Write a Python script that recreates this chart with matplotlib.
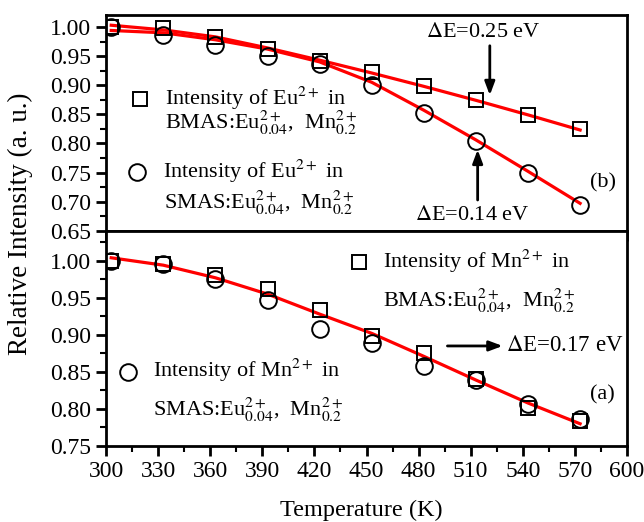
import numpy as np
import matplotlib.pyplot as plt
from matplotlib.ticker import MultipleLocator

plt.rcParams['font.family'] = ['Liberation Serif', 'DejaVu Serif']
plt.rcParams['mathtext.fontset'] = 'stix'

temps = [303, 333, 363, 393, 423, 453, 483, 513, 543, 573]

# (b) Eu2+ emission
eu_bmas = [1.000, 0.998, 0.982, 0.962, 0.941, 0.923, 0.898, 0.874, 0.848, 0.824]
eu_smas = [1.000, 0.987, 0.969, 0.950, 0.936, 0.900, 0.852, 0.804, 0.749, 0.695]
eu_bmas_fit = [1.003, 0.995, 0.983, 0.964, 0.943, 0.921, 0.898, 0.874, 0.849, 0.823]
eu_smas_fit = [0.994, 0.990, 0.978, 0.962, 0.940, 0.905, 0.857, 0.806, 0.752, 0.697]

# (a) Mn2+ emission
mn_bmas = [1.000, 0.995, 0.981, 0.962, 0.933, 0.899, 0.875, 0.840, 0.801, 0.784]
mn_smas = [1.000, 0.996, 0.976, 0.947, 0.908, 0.889, 0.858, 0.839, 0.807, 0.787]
mn_fit = [1.004, 0.994, 0.977, 0.955, 0.928, 0.902, 0.871, 0.839, 0.808, 0.780]

fig = plt.figure(figsize=(6.44, 5.22), dpi=100)
ax_b = fig.add_axes([0.1646, 0.558, 0.809, 0.4133])
ax_a = fig.add_axes([0.1646, 0.1456, 0.809, 0.4124], sharex=ax_b)

sq = dict(marker='s', ms=10, mfc='none', mec='black', mew=1.4, ls='none')
ci = dict(marker='o', ms=12, mfc='none', mec='black', mew=1.4, ls='none')
red = dict(color='#ff0000', lw=2.3)

# top panel
ax_b.plot(temps, eu_bmas_fit, **red)
ax_b.plot(temps, eu_smas_fit, **red)
ax_b.plot(temps, eu_bmas, **sq)
ax_b.plot(temps, eu_smas, **ci)
ax_b.set_ylim(0.65, 1.0206)
ax_b.set_yticks(np.arange(0.65, 1.001, 0.05))
ax_b.yaxis.set_minor_locator(MultipleLocator(0.025))

fs = 16
ax_b.plot([0.065], [0.611], transform=ax_b.transAxes, **sq)
ax_b.text(0.113, 0.615, 'Intensity of Eu$^{2+}$ in', transform=ax_b.transAxes,
          va='center', fontsize=fs)
ax_b.text(0.113, 0.500, 'BMAS:Eu$^{2+}_{0.04}$,  Mn$^{2+}_{0.2}$', transform=ax_b.transAxes,
          va='center', fontsize=fs)
ax_b.plot([0.0595], [0.272], transform=ax_b.transAxes, **ci)
ax_b.text(0.109, 0.276, 'Intensity of Eu$^{2+}$ in', transform=ax_b.transAxes,
          va='center', fontsize=fs)
ax_b.text(0.112, 0.130, 'SMAS:Eu$^{2+}_{0.04}$,  Mn$^{2+}_{0.2}$', transform=ax_b.transAxes,
          va='center', fontsize=fs)

arrow = dict(arrowstyle='-|>,head_length=0.8,head_width=0.3', color='black', lw=2)
ax_b.annotate('', xy=(521, 0.878), xytext=(521, 0.9725), arrowprops=arrow)
ax_b.text(517, 0.99, r'$\Delta$E=0.25 eV', ha='center', va='center', fontsize=fs)
ax_b.annotate('', xy=(514, 0.794), xytext=(514, 0.698), arrowprops=arrow)
ax_b.text(511, 0.677, r'$\Delta$E=0.14 eV', ha='center', va='center', fontsize=fs)
ax_b.text(586, 0.733, '(b)', ha='center', va='center', fontsize=fs)

# bottom panel
ax_a.plot(temps, mn_fit, **red)
ax_a.plot(temps, mn_bmas, **sq)
ax_a.plot(temps, mn_smas, **ci)
ax_a.set_ylim(0.75, 1.0405)
ax_a.set_yticks(np.arange(0.75, 1.001, 0.05))
ax_a.yaxis.set_minor_locator(MultipleLocator(0.025))

ax_a.plot([0.486], [0.855], transform=ax_a.transAxes, **sq)
ax_a.text(0.532, 0.859, 'Intensity of Mn$^{2+}$ in', transform=ax_a.transAxes,
          va='center', fontsize=fs)
ax_a.text(0.532, 0.675, 'BMAS:Eu$^{2+}_{0.04}$,  Mn$^{2+}_{0.2}$', transform=ax_a.transAxes,
          va='center', fontsize=fs)
ax_a.plot([0.042], [0.345], transform=ax_a.transAxes, **ci)
ax_a.text(0.090, 0.349, 'Intensity of Mn$^{2+}$ in', transform=ax_a.transAxes,
          va='center', fontsize=fs)
ax_a.text(0.090, 0.169, 'SMAS:Eu$^{2+}_{0.04}$,  Mn$^{2+}_{0.2}$', transform=ax_a.transAxes,
          va='center', fontsize=fs)

ax_a.annotate('', xy=(530, 0.885), xytext=(495, 0.885), arrowprops=arrow)
ax_a.text(530.5, 0.885, r'$\Delta$E=0.17 eV', ha='left', va='center', fontsize=16.5)
ax_a.text(585.6, 0.819, '(a)', ha='center', va='center', fontsize=fs)

ax_a.set_xlim(300, 600)
ax_a.xaxis.set_major_locator(MultipleLocator(30))
ax_a.xaxis.set_minor_locator(MultipleLocator(15))

for ax in (ax_a, ax_b):
    for s in ax.spines.values():
        s.set_linewidth(2)
    ax.tick_params(which='major', direction='out', length=7, width=2, labelsize=17)
    ax.tick_params(which='minor', direction='out', length=4, width=1.5)
ax_b.tick_params(axis='x', labelbottom=False)

fig.text(0.561, 0.0115, 'Temperature (K)', ha='center', va='baseline', fontsize=17.5)
fig.text(0.031, 0.571, 'Relative Intensity (a. u.)', rotation=90, ha='center',
         va='center', fontsize=19.5)

fig.savefig('out.png', dpi=100)
